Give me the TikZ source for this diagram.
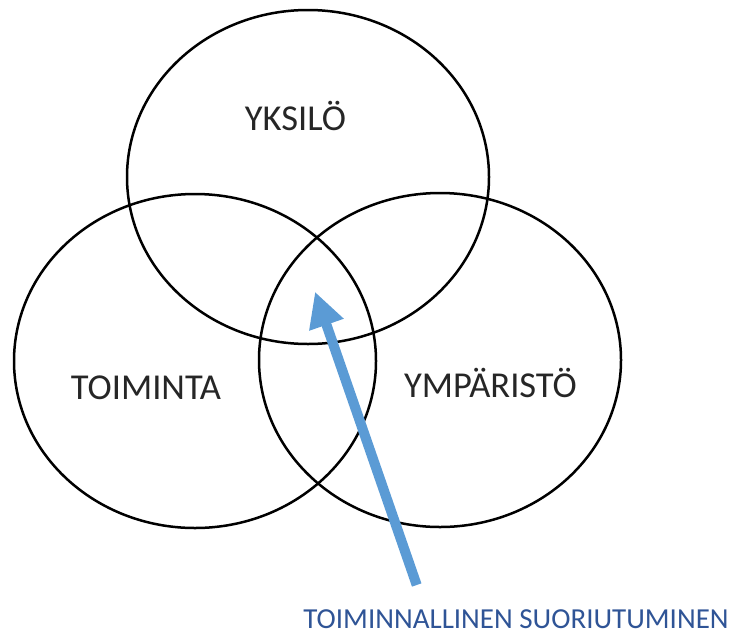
\documentclass[tikz,border=0pt]{standalone}
\usepackage{fontspec}
\setmainfont{Carlito}
\usetikzlibrary{arrows.meta, shapes.geometric, positioning}

\definecolor{arrowblue}{RGB}{91,155,213}
\definecolor{labelblue}{RGB}{47,84,150}

\tikzset{
  setshape/.style = {draw, ellipse, line width=2.5pt, minimum width=362pt,
    minimum height=334pt, inner sep=0pt},
  setname/.style = {anchor=base, text=black!85,
    font=\fontsize{36.5}{40}\selectfont},
}

\begin{document}
\begin{tikzpicture}[x=1pt, y=-1pt, inner sep=0pt]
    \useasboundingbox (0,0) rectangle (735,635);

    \node[setshape] at (308, 177) (yksilo) {};
    \node[setshape] at (195, 361) (toiminta) {};
    \node[setshape] at (440, 360) (ymparisto) {};

    \node[setname] at (295.5, 130) (tyksilo) {YKSILÖ};
    \node[setname] at (146, 399) (ttoiminta) {TOIMINTA};
    \node[setname] at (490.5, 397) (tymparisto) {YMPÄRISTÖ};
    \node[anchor=base, text=labelblue, font=\fontsize{29}{32}\selectfont]
      at (516, 628.5) (suoriutuminen) {TOIMINNALLINEN SUORIUTUMINEN};

    \coordinate (tail) at (416.7, 585);
    \coordinate (tip) at (315, 291.7);
    \draw[-{Triangle[length=35pt, width=34pt]}, line width=10pt,
      arrowblue] (tail) -- (tip);
\end{tikzpicture}
\end{document}
